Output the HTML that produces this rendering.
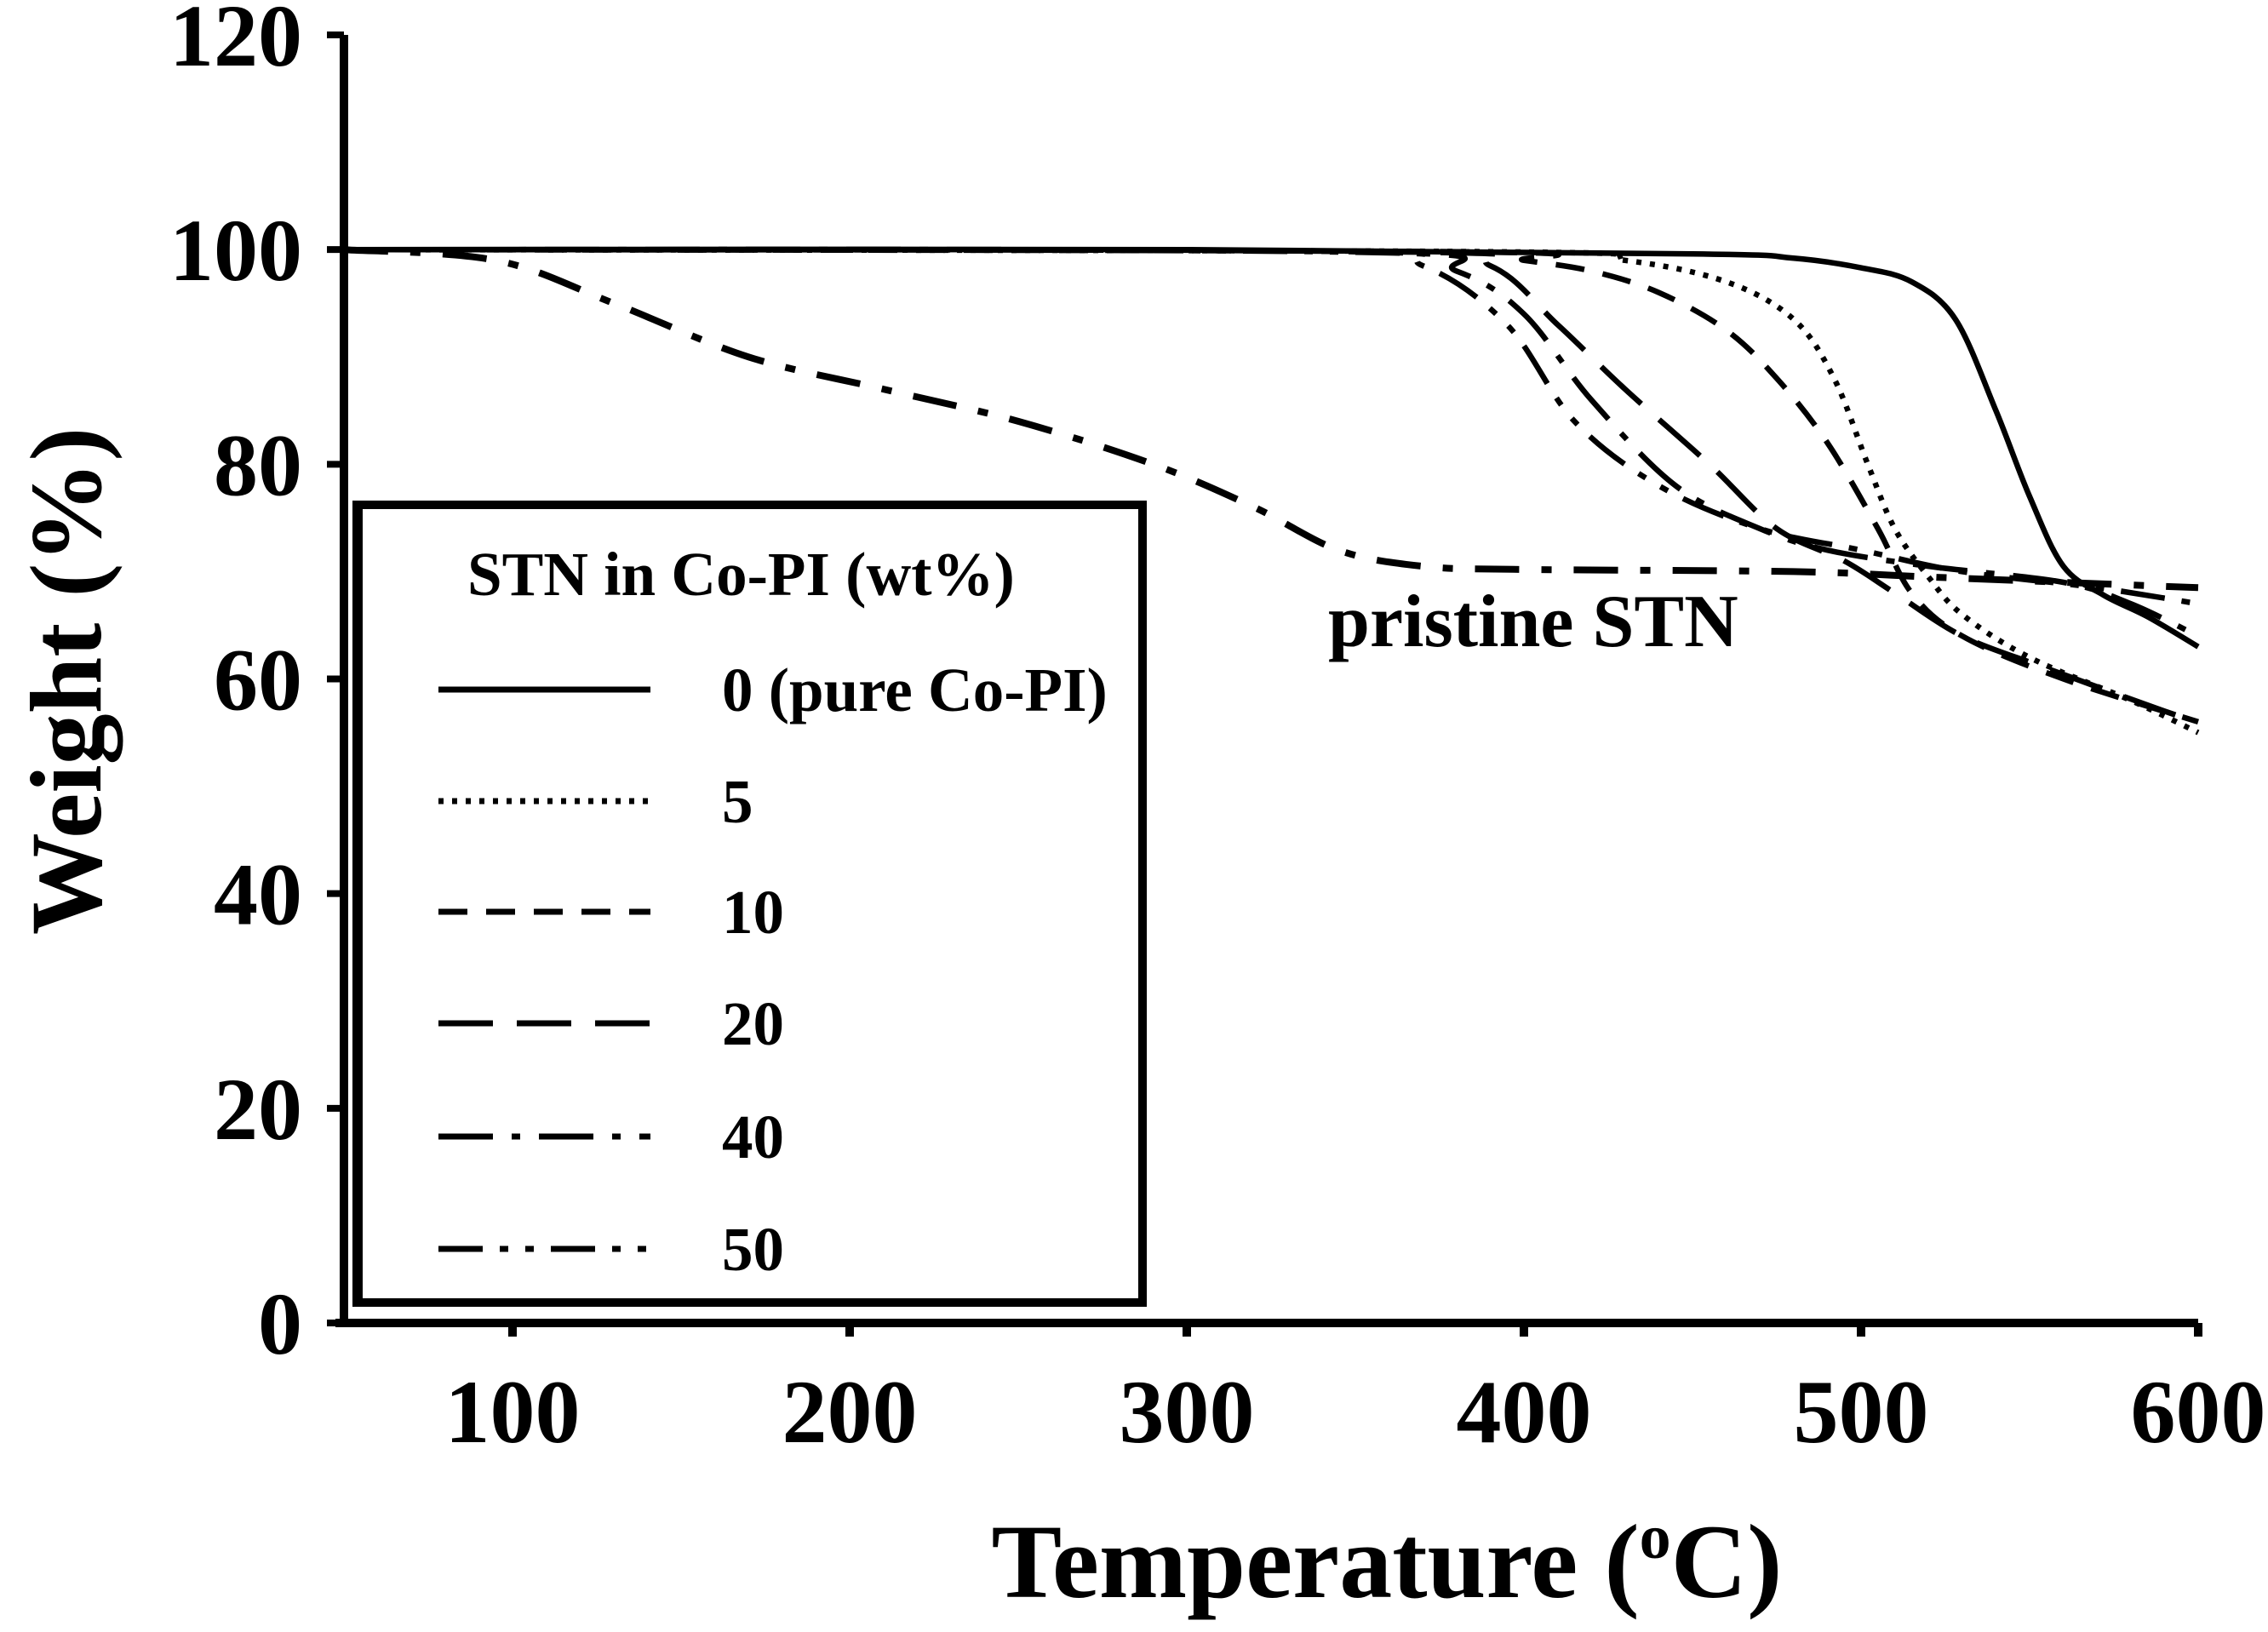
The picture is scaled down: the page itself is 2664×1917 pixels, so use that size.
<!DOCTYPE html>
<html><head><meta charset="utf-8"><style>
html,body{margin:0;padding:0;background:#fff;}
svg{display:block;font-family:"Liberation Serif",serif;font-weight:bold;}
</style></head><body>
<svg id="chart" width="2664" height="1917" viewBox="0 0 2664 1917" xmlns="http://www.w3.org/2000/svg">
<rect width="2664" height="1917" fill="#fff"/>
<g id="curves"></g>
<g id="axes"></g>
<rect x="419" y="593" width="923" height="937" fill="#fff" stroke="#000" stroke-width="10"/>
<line x1="424" y1="593" x2="424" y2="1530" stroke="#000" stroke-width="4"/>
<text x="549" y="699" font-size="73">STN in Co-PI (wt%)</text>
<g id="legend"></g>
<text x="1560" y="759" font-size="88">pristine STN</text>
<text x="1629" y="1876" font-size="124" text-anchor="middle">Temperature (<tspan font-size="74" dy="-46">o</tspan><tspan dy="46">C)</tspan></text>
<text transform="translate(118,800) rotate(-90)" font-size="120" text-anchor="middle">Weight (%)</text>
</svg>
<script>
const xTicks=[100,200,300,400,500,600];
const yTicks=[0,20,40,60,80,100,120];
const seriesNames=["0 (pure Co-PI)","5","10","20","40","50"];
const pureT=[50,300,450,480,500,515,528,540,550,560,572,585,600];
const pureW=[100,100,99.6,99.2,98.3,97,93.5,85,77,70.5,67.8,65.8,63];
const s5T=[50,390,430,460,480,492,502,510,520,530,550,580,600];
const s5W=[100,99.8,99,97,93.5,88,80,74,69.5,66,62,58,55];
const s10T=[50,380,400,420,440,460,475,490,505,515,530,560,600];
const s10W=[100,99.8,99,98,96,92.5,88,82,74,68,64,60,56];
const s20T=[50,360,390,410,430,455,475,495,510,530,555,590,600];
const s20W=[100,99.8,98.5,93,87,80,74,71,68,64,61,57,56];
const s40T=[50,350,380,400,420,445,470,490,520,560,580,600];
const s40W=[100,99.8,98,94,86,78,74,72,70.5,69,67,64];
const s50T=[50,340,370,395,415,440,470,500,530,570,600];
const s50W=[100,99.8,98.5,93,84,78,74,72,70,68.5,67];
const stnT=[50,95,130,170,210,250,290,320,345,370,400,480,520,560,600];
const stnW=[100,99,95,90,87,84,80,76,72,70.5,70.2,70,69.5,69,68.5];

const NS="http://www.w3.org/2000/svg";
const X0=404,X1=2582,Y0=1554,Y120=41;
function sx(t){return X0+(t-50)/(600-50)*(X1-X0);}
function sy(w){return Y0-(w/120)*(Y0-Y120);}
function mk(tag,attrs,parent){const e=document.createElementNS(NS,tag);for(const k in attrs)e.setAttribute(k,attrs[k]);parent.appendChild(e);return e;}
function pathD(T,W){
  const p=T.map((t,i)=>[sx(t),sy(W[i])]);
  let d="M"+p[0][0].toFixed(1)+","+p[0][1].toFixed(1);
  for(let i=0;i<p.length-1;i++){
    const a=p[Math.max(0,i-1)],b=p[i],c=p[i+1],e=p[Math.min(p.length-1,i+2)];
    const c1x=b[0]+(c[0]-a[0])/6,c1y=b[1]+(c[1]-a[1])/6;
    const c2x=c[0]-(e[0]-b[0])/6,c2y=c[1]-(e[1]-b[1])/6;
    d+=" C"+c1x.toFixed(1)+","+c1y.toFixed(1)+" "+c2x.toFixed(1)+","+c2y.toFixed(1)+" "+c[0].toFixed(1)+","+c[1].toFixed(1);
  }
  return d;
}
const dashes=["none","6,10","34,22","64,28","64,22,10,22","52,20,10,20,10,20"];
const data=[[pureT,pureW],[s5T,s5W],[s10T,s10W],[s20T,s20W],[s40T,s40W],[s50T,s50W]];
const curves=document.getElementById('curves');
const ids=["series-0","series-5","series-10","series-20","series-40","series-50"];
data.forEach((s,i)=>{
  const p=mk('path',{d:pathD(s[0],s[1]),fill:"none",stroke:"#000","stroke-width":6.5,"stroke-dasharray":dashes[i]},curves);
  
  
});
const ps=mk('path',{d:pathD(stnT,stnW),fill:"none",stroke:"#000","stroke-width":8,"stroke-dasharray":"52,26,12,26"},curves);



const axes=document.getElementById('axes');
const ya=mk('line',{x1:X0,y1:Y120,x2:X0,y2:Y0,stroke:"#000","stroke-width":10},axes);


const xa=mk('line',{x1:X0-10,y1:Y0,x2:X1,y2:Y0,stroke:"#000","stroke-width":10},axes);


yTicks.forEach(v=>{
  const t=mk('line',{x1:X0-20,y1:sy(v),x2:X0,y2:sy(v),stroke:"#000","stroke-width":8},axes);
  
  
  const l=mk('text',{x:355,y:sy(v)+36,"font-size":104,"text-anchor":"end"},axes);
  l.textContent=v;
  
  
});
xTicks.forEach(v=>{
  const t=mk('line',{x1:sx(v),y1:Y0,x2:sx(v),y2:Y0+16,stroke:"#000","stroke-width":10},axes);
  
  
  const l=mk('text',{x:sx(v),y:1694,"font-size":106,"text-anchor":"middle"},axes);
  l.textContent=v;
  
  
});
const legend=document.getElementById('legend');
const ly=[810,941,1071,1202,1335,1467];
seriesNames.forEach((n,i)=>{
  const ln=mk('line',{x1:515,y1:ly[i],x2:764,y2:ly[i],stroke:"#000","stroke-width":7,"stroke-dasharray":dashes[i]},legend);
  
  
  const tx=mk('text',{x:848,y:ly[i]+25,"font-size":73},legend);
  tx.textContent=n;
  
  
});
</script>
</body></html>
